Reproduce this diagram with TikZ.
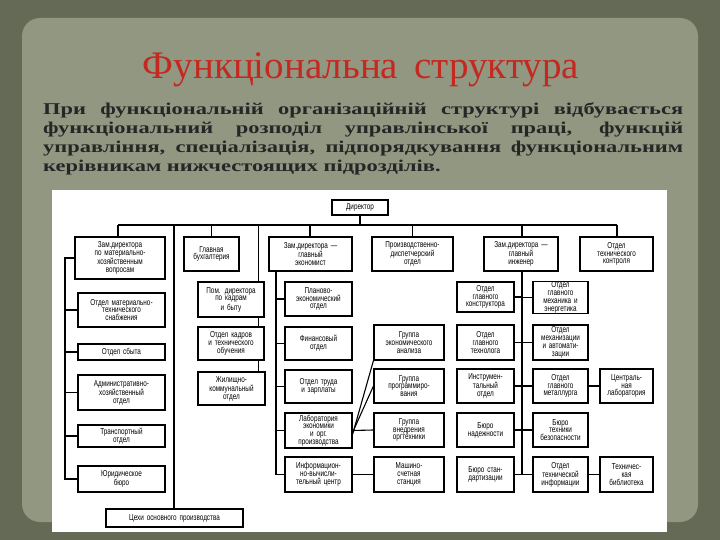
\documentclass[tikz,border=0pt]{standalone}
\usepackage{fontspec}
\setmainfont{Liberation Serif}
\newfontfamily\dia[FakeStretch=0.74]{Liberation Sans}
\newfontfamily\parafont[FakeStretch=1.36,BoldFeatures={FakeStretch=1.36}]{Liberation Serif}
\begin{document}
\begin{tikzpicture}[x=1pt,y=-1pt,
  bx/.style={draw=black,line width=1.1pt,fill=white,inner sep=0.3pt,align=center,
    font=\dia\fontsize{8.6}{7.8}\selectfont},
  ln/.style={draw=black,line width=1.1pt}]
\definecolor{bgout}{RGB}{100,106,86}
\definecolor{bgin}{RGB}{146,151,130}
\definecolor{ttl}{RGB}{196,40,30}
\fill[bgout] (0,0) rectangle (720,540);
\fill[bgin,rounded corners=18pt] (22,18) rectangle (698,522);
\useasboundingbox (0,0) rectangle (720,540);
\node[text=ttl,font=\fontsize{39}{44}\selectfont] (title) at (361,70) {Функціональна\, структура};
\node[anchor=north west,text width=640pt,inner sep=0pt,align=justify,
  font=\parafont\bfseries\fontsize{16.5}{19}\selectfont,text=black!85] (para) at (43,102)
 {При функціональній організаційній структурі відбувається\linebreak функціональний розподіл управлінської праці, функцій\linebreak управління, спеціалізація, підпорядкування функціональним\linebreak керівникам нижчестоящих підрозділів.\par};
\fill[white] (52,190) rectangle (667,532);
\newcommand\bx[6]{\pgfmathsetmacro\tw{#4-#2-1}\pgfmathsetmacro\bw{#4-#2}\pgfmathsetmacro\bh{#5-#3}%
  \node[bx,minimum width=\bw pt,minimum height=\bh pt,text width=\tw pt] (#1) at ({(#2+#4)/2},{(#3+#5)/2}) {#6};}
% top
\bx{dir}{332}{200}{388}{215}{Директор}
\bx{zam1}{75}{237}{165}{279}{Зам.директора\\по материально-\\хозяйственным\\вопросам}
\bx{buh}{184}{237}{239}{271}{Главная\\бухгалтерия}
\bx{econ}{269}{237}{352}{271}{Зам.директора —\\главный\\экономист}
\bx{disp}{372}{237}{453}{271}{Производственно-\\диспетчерский\\отдел}
\bx{eng}{484}{237}{558}{271}{Зам.директора —\\главный\\инженер}
\bx{otk}{580}{237}{653}{271}{Отдел\\технического\\контроля}
% col1
\bx{mts}{78}{293}{165}{327}{Отдел материально-\\технического\\снабжения}
\bx{sbyt}{78}{344}{165}{360}{Отдел сбыта}
\bx{aho}{78}{375}{165}{410}{Административно-\\хозяйственный\\отдел}
\bx{tr}{78}{425}{165}{447}{Транспортный\\отдел}
\bx{yur}{78}{466}{165}{492}{Юридическое\\бюро}
% col2
\bx{pom}{198}{282}{264}{317}{Пом. директора\\по кадрам\\и быту}
\bx{kadr}{198}{327}{264}{360}{Отдел кадров\\и технического\\обучения}
\bx{zhil}{198}{372}{265}{405}{Жилищно-\\коммунальный\\отдел}
% col3
\bx{plan}{285}{282}{352}{316}{Планово-\\экономический\\отдел}
\bx{fin}{285}{327}{352}{360}{Финансовый\\отдел}
\bx{trud}{285}{370}{352}{403}{Отдел труда\\и зарплаты}
\bx{lab}{285}{413}{352}{448}{Лаборатория\\экономики\\и орг.\\производства}
\bx{ivc}{285}{457}{352}{492}{Информацион-\\но-вычисли-\\тельный центр}
% col4
\bx{gea}{374}{325}{444}{360}{Группа\\экономического\\анализа}
\bx{gpr}{374}{369}{444}{403}{Группа\\программиро-\\вания}
\bx{gvn}{374}{413}{444}{447}{Группа\\внедрения\\оргтехники}
\bx{mss}{374}{457}{444}{492}{Машино-\\счетная\\станция}
% col5 left
\bx{gk}{457}{282}{514}{312}{Отдел\\главного\\конструктора}
\bx{gt}{457}{325}{514}{360}{Отдел\\главного\\технолога}
\bx{instr}{457}{369}{514}{403}{Инструмен-\\тальный\\отдел}
\bx{nad}{457}{413}{514}{447}{Бюро\\надежности}
\bx{std}{457}{457}{514}{492}{Бюро стан-\\дартизации}
% col5 right
\bx{mech}{533}{282}{588}{313}{Отдел\\главного\\механика и\\энергетика}
\bx{avt}{533}{325}{588}{360}{Отдел\\механизации\\и автомати-\\зации}
\bx{met}{533}{369}{588}{403}{Отдел\\главного\\металлурга}
\bx{tb}{533}{413}{588}{447}{Бюро\\техники\\безопасности}
\bx{ti}{533}{457}{588}{492}{Отдел\\технической\\информации}
\bx{cl}{600}{369}{653}{403}{Централь-\\ная\\лаборатория}
\bx{lib}{600}{457}{653}{492}{Техничес-\\кая\\библиотека}
\bx{cex}{106}{509}{243}{527}{Цехи основного производства}
% bus
\coordinate (bl) at (118,225); \coordinate (br) at (617,225);
\coordinate (s1) at (65,0); \coordinate (s3) at (276,0); \coordinate (s5) at (522,0);
\coordinate (xe) at (310,0); \coordinate (xc) at (174,0); \coordinate (xp) at (258.5,0);
\draw[ln] (dir.south) -- (dir.south|-bl);
\draw[ln] (bl) -- (br);
\draw[ln] (bl) -- (bl|-zam1.north);
\draw[ln] (buh.north|-bl) -- (buh.north);
\draw[ln] (xe|-bl) -- (xe|-econ.north);
\draw[ln] (disp.north|-bl) -- (disp.north);
\draw[ln] (s5|-bl) -- (s5|-eng.north);
\draw[ln] (br) -- (br|-otk.north);
\draw[ln] (xc|-bl) -- (xc|-cex.north);
\draw[ln] (xp|-bl) -- (xp|-pom.north);
\draw[ln] (xp|-pom.south) -- (xp|-kadr.north);
\draw[ln] (xp|-kadr.south) -- (xp|-zhil.north);
% col1 spine
\draw[ln] (zam1.west) -- (s1|-zam1.west) -- (s1|-yur.west) -- (yur.west);
\foreach \b in {mts,sbyt,aho,tr} \draw[ln] (\b.west) -- (s1|-\b.west);
% col3 spine
\draw[ln] (s3|-econ.south) -- (s3|-ivc.west) -- (ivc.west);
\foreach \b in {plan,fin,trud,lab} \draw[ln] (\b.west) -- (s3|-\b.west);
% col4
\draw[ln] (lab.east) -- (gvn.west);
\draw[ln] (ivc.east) -- (mss.west);
\draw[ln] ([yshift=-4pt]lab.east) -- (gea.south west);
\draw[ln] ([yshift=-2pt]lab.east) -- (gpr.west);
% col5
\draw[ln] (s5|-eng.south) -- (s5|-ti.west);
\foreach \b in {gk,gt,instr,nad,std} \draw[ln] (\b.east) -- (s5|-\b.east);
\foreach \b in {mech,avt,met,tb,ti} \draw[ln] (\b.west) -- (s5|-\b.west);
\draw[ln] (met.east) -- (cl.west);
\draw[ln] (ti.east) -- (lib.west);
\end{tikzpicture}
\end{document}
